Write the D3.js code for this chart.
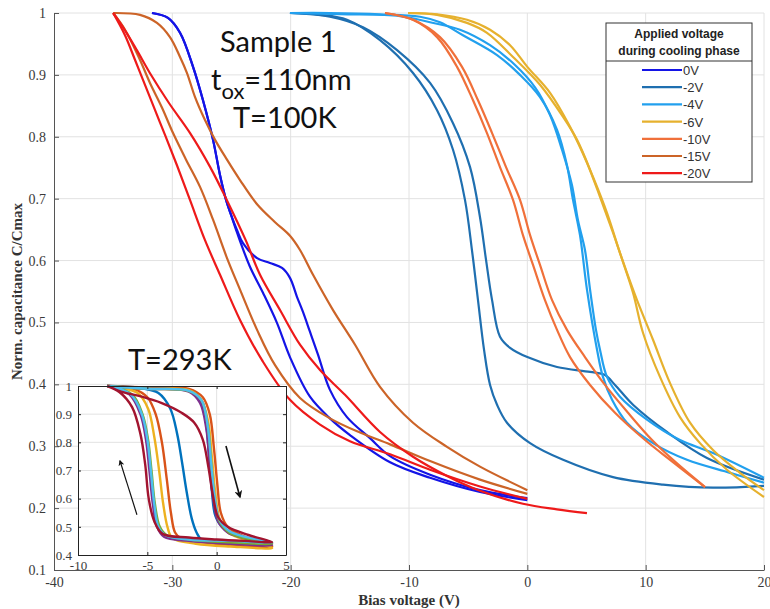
<!DOCTYPE html>
<head>
    <meta charset="utf-8">
    <script src="https://d3js.org/d3.v7.min.js"></script>
    <style>
        body { margin: 0; background: #fff; }
        .tick text { font-family: 'Liberation Serif', serif; font-size: 14px; fill: #3a3a3a; }
        .tick line, .domain { stroke: #555; }
    </style>
</head>

<body>
    <div id="my_dataviz"></div>
</body>
<script>

    // ---- values: [bias voltage (V), C/Cmax] ----

    // 0V
    var v0_direct = [[-31.72, 1.0], [-30.37, 0.992], [-29.35, 0.968], [-28.25, 0.913], [-27.41, 0.859], [-26.56, 0.795], [-25.97, 0.738], [-25.46, 0.698], [-25.04, 0.674], [-24.53, 0.645], [-23.44, 0.590], [-22.34, 0.548], [-21.15, 0.499], [-20.06, 0.444], [-18.37, 0.380], [-16.68, 0.345], [-14.99, 0.318], [-11.6, 0.274], [-8.22, 0.249], [-4.0, 0.226], [0.0, 0.213]];
    var v0_plateau = [[-31.72, 1.0], [-30.37, 0.992], [-29.35, 0.968], [-28.25, 0.913], [-27.41, 0.859], [-26.56, 0.795], [-25.97, 0.738], [-25.46, 0.698], [-25.04, 0.674], [-24.53, 0.649], [-24.03, 0.628], [-22.84, 0.604], [-21.75, 0.596], [-20.73, 0.588], [-20.06, 0.572], [-19.46, 0.541], [-18.96, 0.517], [-18.37, 0.485], [-17.69, 0.448], [-16.68, 0.391], [-15.24, 0.347], [-13.3, 0.313], [-11.6, 0.284], [-8.22, 0.254], [-4.0, 0.229], [0.0, 0.216]];
    // -2V
    var v2_low = [[-20.06, 1.0], [-17.52, 0.997], [-15.24, 0.989], [-12.45, 0.956], [-9.66, 0.903], [-7.63, 0.843], [-6.28, 0.779], [-5.27, 0.698], [-4.68, 0.617], [-4.17, 0.536], [-3.66, 0.456], [-3.15, 0.399], [-2.56, 0.367], [-1.72, 0.338], [0.23, 0.305], [3.02, 0.278], [7.24, 0.250], [11.47, 0.238], [15.69, 0.233], [20.0, 0.236]];
    var v2_high = [[-20.06, 1.0], [-16.68, 0.994], [-13.89, 0.977], [-11.01, 0.940], [-8.22, 0.887], [-6.28, 0.822], [-4.84, 0.751], [-4.0, 0.670], [-3.49, 0.601], [-2.98, 0.536], [-2.31, 0.477], [-1.46, 0.459], [0.0, 0.444], [2.51, 0.428], [5.30, 0.420], [6.56, 0.415], [7.41, 0.399], [8.93, 0.367], [11.8, 0.323], [15.18, 0.281], [20.0, 0.246]];
    // -4V
    var v4_a = [[-20.06, 1.0], [-16.68, 1.0], [-12.45, 0.998], [-9.07, 0.994], [-7.38, 0.985], [-5.44, 0.964], [-2.56, 0.932], [-0.62, 0.900], [1.07, 0.864], [2.51, 0.811], [3.35, 0.754], [3.86, 0.698], [4.45, 0.641], [5.04, 0.553], [5.89, 0.456], [6.39, 0.412], [7.16, 0.375], [8.42, 0.338], [10.62, 0.305], [13.49, 0.278], [17.13, 0.257], [20.0, 0.241]];
    var v4_b = [[-20.06, 1.0], [-15.83, 0.998], [-10.76, 0.995], [-8.22, 0.985], [-5.69, 0.973], [-3.15, 0.948], [-1.04, 0.916], [0.65, 0.880], [1.92, 0.835], [2.93, 0.779], [3.77, 0.722], [4.28, 0.665], [4.87, 0.617], [5.30, 0.553], [5.80, 0.488], [6.14, 0.456], [6.73, 0.412], [7.83, 0.380], [10.11, 0.343], [12.9, 0.310], [15.69, 0.289], [20.0, 0.249]];
    // -6V
    var v6_a = [[-10.08, 1.0], [-7.63, 0.997], [-5.1, 0.984], [-3.41, 0.968], [-1.21, 0.929], [1.07, 0.884], [3.02, 0.832], [4.2, 0.795], [5.55, 0.735], [6.73, 0.677], [7.83, 0.612], [8.93, 0.548], [9.78, 0.483], [11.21, 0.412], [12.9, 0.347], [14.59, 0.305], [16.87, 0.262], [20.0, 0.218]];
    var v6_b = [[-10.08, 1.0], [-7.63, 0.998], [-5.1, 0.989], [-3.15, 0.973], [-1.46, 0.948], [0.0, 0.913], [1.92, 0.871], [3.61, 0.816], [5.04, 0.758], [6.14, 0.703], [7.24, 0.645], [8.42, 0.580], [9.27, 0.536], [10.62, 0.472], [12.06, 0.402], [13.75, 0.338], [15.69, 0.294], [17.97, 0.257], [20.0, 0.229]];
    // -10V
    var v10_a = [[-12.03, 1.0], [-9.66, 0.989], [-7.63, 0.961], [-5.94, 0.913], [-4.59, 0.859], [-3.41, 0.806], [-2.31, 0.751], [-1.21, 0.698], [-0.37, 0.641], [0.48, 0.593], [1.49, 0.536], [2.51, 0.488], [3.61, 0.444], [5.30, 0.399], [7.41, 0.354], [9.95, 0.310], [12.06, 0.278], [15.02, 0.234]];
    var v10_b = [[-12.03, 1.0], [-9.66, 0.989], [-7.38, 0.961], [-5.52, 0.913], [-4.17, 0.859], [-2.98, 0.806], [-1.8, 0.751], [-0.62, 0.698], [0.23, 0.641], [1.07, 0.593], [2.09, 0.536], [3.35, 0.488], [4.87, 0.444], [6.56, 0.399], [8.51, 0.354], [10.54, 0.310], [12.48, 0.275], [15.02, 0.234]];
    // -15V
    var v15_a = [[-35.0, 1.0], [-34.0, 0.973], [-32.73, 0.924], [-31.89, 0.887], [-30.87, 0.847], [-29.94, 0.806], [-28.84, 0.763], [-27.66, 0.719], [-26.56, 0.666], [-25.38, 0.604], [-24.28, 0.553], [-22.84, 0.488], [-21.32, 0.431], [-19.21, 0.378], [-16.68, 0.345], [-14.14, 0.322], [-11.6, 0.303], [-8.22, 0.276], [-4.0, 0.246], [0.0, 0.223]];
    var v15_b = [[-35.0, 1.0], [-32.73, 0.997], [-31.3, 0.984], [-30.2, 0.961], [-29.35, 0.929], [-28.76, 0.903], [-28.08, 0.864], [-27.24, 0.827], [-26.39, 0.795], [-25.38, 0.763], [-24.28, 0.730], [-22.84, 0.691], [-21.32, 0.662], [-20.06, 0.640], [-19.21, 0.617], [-18.11, 0.577], [-16.42, 0.520], [-14.56, 0.464], [-12.45, 0.396], [-9.66, 0.338], [-6.79, 0.299], [-4.0, 0.267], [0.0, 0.229]];
    // -20V
    var v20_a = [[-35.0, 1.0], [-34.0, 0.964], [-33.15, 0.924], [-32.48, 0.892], [-31.46, 0.843], [-30.62, 0.803], [-29.61, 0.754], [-28.51, 0.698], [-27.24, 0.633], [-25.97, 0.577], [-24.28, 0.504], [-22.42, 0.439], [-20.06, 0.375], [-17.52, 0.335], [-14.99, 0.308], [-11.6, 0.287], [-8.22, 0.262], [-4.0, 0.235], [0.0, 0.215]];
    var v20_b = [[-35.0, 1.0], [-34.0, 0.972], [-33.0, 0.94], [-31.9, 0.903], [-30.3, 0.855], [-28.5, 0.806], [-26.8, 0.751], [-25.4, 0.698], [-23.8, 0.633], [-22.59, 0.577], [-20.9, 0.520], [-19.21, 0.464], [-17.52, 0.423], [-15.41, 0.383], [-12.45, 0.323], [-9.66, 0.283], [-6.79, 0.252], [-4.0, 0.228], [-0.37, 0.207], [2.5, 0.198], [5.04, 0.192]];

    // inset, T=293K loops (down sweep then up sweep)
    var rt1 = [[-7.9, 1.0], [-6, 0.995], [-4, 0.99], [-2, 0.985], [-1.2, 0.95], [-0.8, 0.88], [-0.55, 0.75], [-0.35, 0.63], [-0.1, 0.54], [0.4, 0.5], [1.5, 0.47], [3, 0.45], [4, 0.44], [2, 0.44], [0, 0.445], [-1.1, 0.455], [-1.45, 0.48], [-1.8, 0.53], [-2.15, 0.62], [-2.5, 0.73], [-2.85, 0.83], [-3.35, 0.92], [-4.2, 0.975], [-5.5, 0.993], [-7.9, 1.0]];
    var rt2 = [[-7.9, 1.0], [-5, 0.995], [-2, 0.99], [-1, 0.96], [-0.5, 0.9], [-0.2, 0.78], [0.05, 0.65], [0.3, 0.55], [0.8, 0.5], [2, 0.465], [4, 0.43], [1, 0.435], [-1, 0.445], [-2.6, 0.46], [-3.0, 0.48], [-3.3, 0.55], [-3.6, 0.67], [-3.95, 0.8], [-4.4, 0.9], [-5.0, 0.96], [-6, 0.99], [-7.9, 1.0]];
    var rt3 = [[-7.9, 1.0], [-5, 0.99], [-2, 0.985], [-1.1, 0.95], [-0.6, 0.87], [-0.35, 0.75], [-0.1, 0.62], [0.2, 0.53], [0.8, 0.48], [2, 0.455], [4, 0.425], [1, 0.43], [-1.5, 0.44], [-3.2, 0.46], [-3.55, 0.5], [-3.85, 0.58], [-4.15, 0.7], [-4.5, 0.82], [-4.95, 0.92], [-5.7, 0.975], [-7.9, 1.0]];
    var rt4 = [[-7.9, 1.0], [-5, 0.99], [-2, 0.98], [-1.2, 0.94], [-0.75, 0.85], [-0.5, 0.72], [-0.25, 0.6], [0.1, 0.52], [0.8, 0.48], [2, 0.46], [4, 0.435], [1, 0.44], [-2, 0.45], [-3.8, 0.465], [-4.3, 0.5], [-4.6, 0.58], [-4.85, 0.7], [-5.1, 0.81], [-5.5, 0.9], [-6.3, 0.97], [-7.9, 1.0]];
    var rt5 = [[-7.9, 1.0], [-5, 0.99], [-2, 0.982], [-1.1, 0.95], [-0.65, 0.86], [-0.4, 0.73], [-0.15, 0.6], [0.2, 0.52], [0.9, 0.48], [2, 0.46], [4, 0.44], [1, 0.445], [-2, 0.455], [-3.6, 0.47], [-4.1, 0.5], [-4.45, 0.58], [-4.7, 0.7], [-4.95, 0.81], [-5.35, 0.9], [-6.1, 0.97], [-7.9, 1.0]];
    var rt6 = [[-7.9, 1.0], [-5, 0.99], [-2, 0.983], [-1.1, 0.95], [-0.65, 0.86], [-0.4, 0.73], [-0.15, 0.61], [0.2, 0.525], [0.9, 0.485], [2, 0.465], [4, 0.445], [1, 0.45], [-2, 0.455], [-3.7, 0.47], [-4.2, 0.5], [-4.5, 0.58], [-4.75, 0.7], [-5.0, 0.81], [-5.4, 0.9], [-6.2, 0.97], [-7.9, 1.0]];
    var rt7 = [[-7.9, 1.0], [-6.9, 0.98], [-5.4, 0.962], [-4, 0.94], [-2.5, 0.904], [-1.6, 0.869], [-1.0, 0.81], [-0.6, 0.713], [-0.25, 0.606], [0.1, 0.535], [0.8, 0.5], [2.3, 0.471], [4, 0.446], [2, 0.45], [0, 0.455], [-2, 0.462], [-3.9, 0.475], [-4.5, 0.52], [-4.9, 0.6], [-5.15, 0.72], [-5.5, 0.83], [-6.1, 0.925], [-7.0, 0.978], [-7.9, 1.0]];

    // sweep direction arrows in the inset: [from, to]
    var arrowUp = [[-5.75, 0.543], [-6.97, 0.734]];
    var arrowDown = [[0.67, 0.787], [1.68, 0.606]];

    var legendLabels = ["0V", "-2V", "-4V", "-6V", "-10V", "-15V", "-20V"];
    var xTicks = [-40, -30, -20, -10, 0, 10, 20];
    var yTicks = [0.1, 0.2, 0.3, 0.4, 0.5, 0.6, 0.7, 0.8, 0.9, 1];
    var yTickLabels = ["0.1", "0.2", "0.3", "0.4", "0.5", "0.6", "0.7", "0.8", "0.9", "1"];
    var insetXTicks = [-10, -5, 0, 5];
    var insetYTicks = [0.4, 0.5, 0.6, 0.7, 0.8, 0.9, 1];
    var insetYTickLabels = ["0.4", "0.5", "0.6", "0.7", "0.8", "0.9", "1"];

    var mainCurves = [
        [v0_direct, v0_plateau], [v2_low, v2_high], [v4_a, v4_b], [v6_a, v6_b],
        [v10_a, v10_b], [v15_a, v15_b], [v20_a, v20_b]
    ];
    var insetCurves = [rt1, rt2, rt3, rt4, rt5, rt6, rt7];

    var colors = ["#1414e6", "#1f6fb0", "#22a0ee", "#e6b12e", "#f0703a", "#cc6428", "#ee1a1a"];
    var insetColors = ["#0072BD", "#D95319", "#EDB120", "#7E2F8E", "#77AC30", "#4DBEEE", "#A2142F"];

    var svg = d3.select("#my_dataviz")
        .append("svg")
        .attr("width", 770)
        .attr("height", 609);

    var x = d3.scaleLinear().domain([-40, 20]).range([54, 764]);
    var y = d3.scaleLinear().domain([0.1, 1]).range([570, 13]);

    // grid
    svg.append("g").selectAll("line").data(xTicks.slice(1)).enter().append("line")
        .attr("x1", function (d) { return x(d); }).attr("x2", function (d) { return x(d); })
        .attr("y1", y(0.1)).attr("y2", y(1))
        .style("stroke", "#e2e2e2");
    svg.append("g").selectAll("line").data(yTicks.slice(1)).enter().append("line")
        .attr("y1", function (d) { return y(d); }).attr("y2", function (d) { return y(d); })
        .attr("x1", x(-40)).attr("x2", x(20))
        .style("stroke", "#e2e2e2");

    // axes
    svg.append("g")
        .attr("transform", "translate(0," + y(0.1) + ")")
        .call(d3.axisBottom(x).tickValues(xTicks).tickSizeInner(-5).tickSizeOuter(0).tickPadding(7)
            .tickFormat(function (d) { return String(d); }));
    svg.append("g")
        .attr("transform", "translate(" + x(-40) + ",0)")
        .call(d3.axisLeft(y).tickValues(yTicks).tickSizeInner(-5).tickSizeOuter(0).tickPadding(8)
            .tickFormat(function (d, i) { return yTickLabels[i]; }));

    svg.append("text")
        .attr("transform", "translate(22," + ((y(0.1) + y(1)) / 2) + ") rotate(-90)")
        .style("text-anchor", "middle")
        .style("font-family", "'Liberation Serif', serif")
        .style("font-weight", "bold")
        .style("font-size", "15px")
        .style("fill", "#333")
        .text("Norm. capacitance C/Cmax");
    svg.append("text")
        .attr("x", x(-10)).attr("y", 605)
        .style("text-anchor", "middle")
        .style("font-family", "'Liberation Serif', serif")
        .style("font-weight", "bold")
        .style("font-size", "15px")
        .style("fill", "#333")
        .text("Bias voltage (V)");

    // main curves
    var line = d3.line()
        .x(function (d) { return x(d[0]); })
        .y(function (d) { return y(d[1]); })
        .curve(d3.curveCatmullRom.alpha(0.5));

    mainCurves.forEach(function (pair, i) {
        svg.append("g").selectAll("path").data(pair).enter().append("path")
            .attr("d", line)
            .style("fill", "none")
            .style("stroke", colors[i])
            .style("stroke-width", 2.2);
    });

    // annotations
    var note = svg.append("g")
        .style("font-family", "Lato, 'Open Sans', sans-serif")
        .style("font-size", "29px")
        .style("fill", "#111");
    note.append("text").attr("x", 220).attr("y", 52).text("Sample 1");
    var tox = note.append("text").attr("x", 211).attr("y", 90);
    tox.append("tspan").text("t");
    tox.append("tspan").attr("dy", 9).style("font-size", "22px").text("ox");
    tox.append("tspan").attr("dy", -9).text("=110nm");
    note.append("text").attr("x", 233).attr("y", 128).text("T=100K");
    note.append("text").attr("x", 128).attr("y", 370).text("T=293K");

    // legend
    var leg = svg.append("g");
    leg.append("rect")
        .attr("x", 606).attr("y", 23).attr("width", 146).attr("height", 159)
        .style("fill", "#fff").style("stroke", "#333").style("stroke-width", 1);
    leg.append("line")
        .attr("x1", 606).attr("x2", 752).attr("y1", 61).attr("y2", 61)
        .style("stroke", "#333");
    leg.selectAll(".head").data(["Applied voltage", "during cooling phase"]).enter().append("text")
        .attr("x", 679).attr("y", function (d, i) { return 38 + i * 17; })
        .style("text-anchor", "middle")
        .style("font-family", "'Liberation Sans', Arial, sans-serif")
        .style("font-weight", "bold").style("font-size", "12px").style("fill", "#222")
        .text(function (d) { return d; });
    var entry = leg.selectAll(".entry").data(legendLabels).enter().append("g")
        .attr("transform", function (d, i) { return "translate(0," + (70 + i * 17.2) + ")"; });
    entry.append("line")
        .attr("x1", 642).attr("x2", 682)
        .style("stroke", function (d, i) { return colors[i]; })
        .style("stroke-width", 2.2);
    entry.append("text")
        .attr("x", 683).attr("y", 5)
        .style("font-family", "'Liberation Sans', Arial, sans-serif")
        .style("font-size", "13px").style("fill", "#333")
        .text(function (d) { return d; });

    // inset
    var xi = d3.scaleLinear().domain([-10, 5]).range([78, 286]);
    var yi = d3.scaleLinear().domain([0.4, 1]).range([555, 386]);
    var inset = svg.append("g");
    inset.append("rect")
        .attr("x", 78).attr("y", 386).attr("width", 208).attr("height", 169)
        .style("fill", "#fff");
    inset.append("g").selectAll("line").data([-5, 0]).enter().append("line")
        .attr("x1", function (d) { return xi(d); }).attr("x2", function (d) { return xi(d); })
        .attr("y1", yi(0.4)).attr("y2", yi(1))
        .style("stroke", "#e2e2e2");
    inset.append("g").selectAll("line").data(insetYTicks.slice(1, -1)).enter().append("line")
        .attr("y1", function (d) { return yi(d); }).attr("y2", function (d) { return yi(d); })
        .attr("x1", xi(-10)).attr("x2", xi(5))
        .style("stroke", "#e2e2e2");

    var lineInset = d3.line()
        .x(function (d) { return xi(d[0]); })
        .y(function (d) { return yi(d[1]); })
        .curve(d3.curveCatmullRom.alpha(0.5));
    inset.append("g").selectAll("path").data(insetCurves).enter().append("path")
        .attr("d", lineInset)
        .style("fill", "none")
        .style("stroke", function (d, i) { return insetColors[i]; })
        .style("stroke-width", 2.4);

    inset.append("g").attr("transform", "translate(0," + yi(0.4) + ")")
        .call(d3.axisBottom(xi).tickValues(insetXTicks).tickSizeInner(-3).tickSizeOuter(0).tickPadding(6)
            .tickFormat(function (d) { return String(d); }));
    inset.append("g").attr("transform", "translate(0," + yi(1) + ")")
        .call(d3.axisTop(xi).tickValues(insetXTicks).tickSizeInner(-3).tickSizeOuter(0).tickFormat(""));
    inset.append("g").attr("transform", "translate(" + xi(-10) + ",0)")
        .call(d3.axisLeft(yi).tickValues(insetYTicks).tickSizeInner(-3).tickSizeOuter(0).tickPadding(6)
            .tickFormat(function (d, i) { return insetYTickLabels[i]; }));
    inset.append("g").attr("transform", "translate(" + xi(5) + ",0)")
        .call(d3.axisRight(yi).tickValues(insetYTicks).tickSizeInner(-3).tickSizeOuter(0).tickFormat(""));
    inset.selectAll(".domain").style("stroke", "#222");
    inset.selectAll(".tick line").style("stroke", "#222");
    inset.selectAll(".tick text").style("font-size", "13px");

    // arrows
    var defs = svg.append("defs");
    defs.append("marker").attr("id", "head").attr("viewBox", "0 0 10 10")
        .attr("refX", 8).attr("refY", 5).attr("markerWidth", 5).attr("markerHeight", 5)
        .attr("orient", "auto")
        .append("path").attr("d", "M0,0 L10,5 L0,10 L3,5 z").style("fill", "#111");
    [[arrowUp, 1.2], [arrowDown, 1.6]].forEach(function (a) {
        inset.append("line")
            .attr("x1", xi(a[0][0][0])).attr("y1", yi(a[0][0][1]))
            .attr("x2", xi(a[0][1][0])).attr("y2", yi(a[0][1][1]))
            .style("stroke", "#111").style("stroke-width", a[1])
            .attr("marker-end", "url(#head)");
    });

</script>
